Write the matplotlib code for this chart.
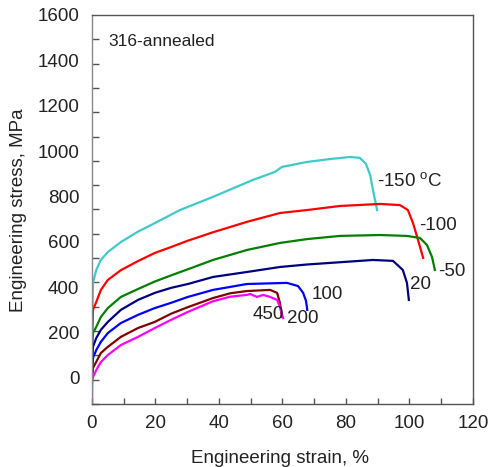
import numpy as np
import matplotlib
matplotlib.use("Agg")
import matplotlib.pyplot as plt

plt.rcParams["font.family"] = ["Liberation Sans", "DejaVu Sans"]

# ================================
# CURVE DATA
# strain in %, stress in MPa (axis label units)
# ================================
strain_m150 = [0.15, 0.3, 1.35, 2.8, 5.0, 9.1, 14.5, 18.9, 27.7, 38.1, 50.7, 57.6,
               59.8, 67.7, 75.0, 81.3, 84.4, 86.3, 87.6, 88.5, 89.8]
stress_m150 = [308, 419, 476, 520, 555, 599, 645, 676, 740, 798, 873, 908,
               930, 952, 965, 974, 970, 943, 895, 829, 740]

strain_m100 = [0.1, 0.3, 1.35, 2.8, 5.0, 9.1, 14.5, 19.8, 24.9, 30.2, 38.1, 48.8,
               59.2, 67.7, 78.1, 90.7, 97.0, 99.5, 101.1, 102.7, 104.3]
stress_m100 = [190, 300, 335, 388, 432, 475, 515, 551, 577, 605, 642, 688,
               727, 740, 758, 767, 762, 740, 683, 608, 529]

strain_m50 = [0.1, 0.3, 1.35, 2.8, 5.0, 9.1, 14.5, 19.8, 24.9, 30.2, 38.1, 48.8,
              59.2, 67.7, 78.1, 90.7, 99.2, 103.3, 105.5, 107.1, 108.0]
stress_m50 = [137, 198, 225, 269, 308, 357, 392, 425, 452, 479, 520, 564,
              595, 612, 626, 630, 626, 617, 586, 533, 476]

strain_20 = [0.1, 0.3, 1.35, 2.8, 5.0, 9.1, 14.5, 19.8, 24.9, 30.2, 38.1, 48.8,
             59.2, 67.7, 88.5, 94.8, 97.9, 99.2, 99.8]
stress_20 = [70, 137, 176, 212, 247, 300, 344, 375, 397, 414, 445, 467,
             489, 500, 520, 516, 476, 419, 344]

strain_100 = [0.1, 0.3, 1.35, 2.8, 5.0, 9.1, 14.5, 19.8, 24.9, 30.2, 38.1, 48.8,
              61.4, 64.9, 66.5, 67.4, 67.8]
stress_100 = [35, 88, 123, 159, 198, 242, 278, 308, 331, 357, 388, 414,
              419, 405, 375, 340, 300]

strain_200 = [0.1, 0.3, 1.35, 2.8, 5.0, 9.1, 14.5, 19.8, 24.9, 30.2, 38.1, 43.5,
              48.8, 56.1, 58.3, 59.2, 59.8]
stress_200 = [0, 44, 71, 110, 137, 181, 220, 247, 283, 312, 352, 373,
              383, 388, 375, 331, 269]

strain_450 = [0.0, 0.05, 0.2, 1.35, 2.8, 5.0, 9.1, 14.5, 19.8, 24.9, 30.2, 38.1,
              43.5, 48.8, 49.8, 52.0, 53.9, 56.1, 58.3, 59.2, 60.2]
stress_450 = [-115, -30, 0, 35, 70, 101, 145, 181, 220, 256, 291, 338,
              358, 366, 370, 357, 366, 357, 344, 313, 264]

curves = [
    (strain_m150, stress_m150, "#3FCACA"),
    (strain_m100, stress_m100, "#FF0000"),
    (strain_m50, stress_m50, "#007F00"),
    (strain_20, stress_20, "#000080"),
    (strain_100, stress_100, "#0000FF"),
    (strain_200, stress_200, "#7F0000"),
    (strain_450, stress_450, "#FF00FF"),
]

# temperature labels: (text, strain, stress)
labels = [
    ("-150 $^\\mathregular{o}$C", 89.8, 864),
    ("-100", 103.0, 670),
    ("-50", 109.0, 471),
    ("20", 100.2, 414),
    ("100", 69.3, 366),
    ("200", 61.4, 260),
    ("450", 50.7, 278),
]

x_ticks = [0, 20, 40, 60, 80, 100, 120]
y_ticks = [0, 200, 400, 600, 800, 1000, 1200, 1400, 1600]

# ================================
# PLOT
# ================================
fig = plt.figure(figsize=(4.93, 4.67), dpi=100)
ax = fig.add_axes([0.1866, 0.1349, 0.7728, 0.833])

for xs, ys, c in curves:
    ax.plot(xs, ys, color=c, lw=1.6, solid_joinstyle="round")

for txt, x, y in labels:
    ax.text(x, y, txt, fontsize=13.5, color="#222222", ha="left", va="center")

ax.text(5.0, 1481, "316-annealed", fontsize=12.5, color="#222222",
        ha="left", va="center")

ax.set_xlim(0, 120)
ax.set_ylim(-115, 1600)

ax.set_xticks(x_ticks)
ax.set_xticks(np.arange(0, 121, 10), minor=True)
ax.set_yticks(y_ticks)
ax.set_yticks(np.linspace(-115, 1600, 17), minor=True)

ax.tick_params(axis="x", which="both", direction="in", length=4, width=1,
               color="#555555", labelsize=13.5, labelcolor="#222222", pad=8)
ax.tick_params(axis="y", which="major", length=0, labelsize=13.5,
               labelcolor="#222222", pad=9)
ax.tick_params(axis="y", which="minor", direction="in", length=5, width=1,
               color="#555555")

for s in ax.spines.values():
    s.set_color("#555555")
    s.set_linewidth(1)
ax.spines["left"].set_color("#888888")

ax.set_xlabel("Engineering strain, %", fontsize=13.5, color="#222222")
ax.set_ylabel("Engineering stress, MPa", fontsize=13.5, color="#222222")
ax.xaxis.label.set_va("center")
ax.yaxis.label.set_va("center")
ax.xaxis.set_label_coords(0.493, -0.139)
ax.yaxis.set_label_coords(-0.194, 0.499)

fig.savefig("out.png", dpi=100)
